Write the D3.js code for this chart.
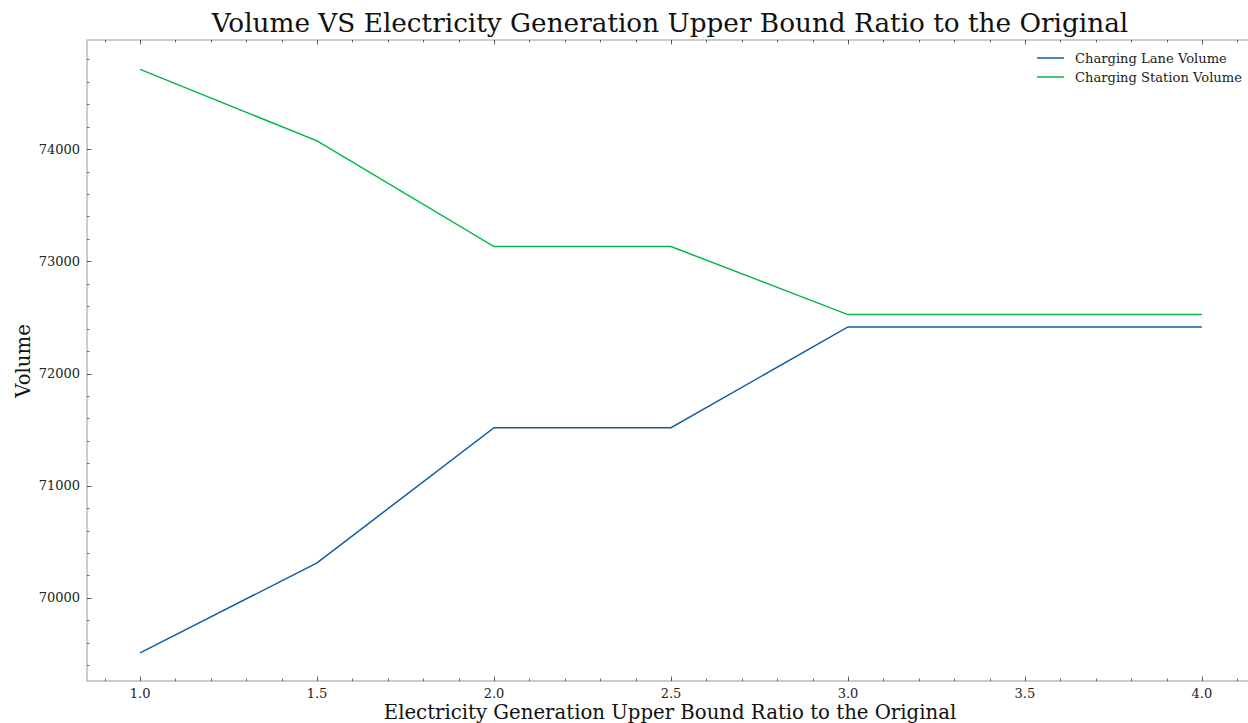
<!DOCTYPE html>
<html><head><meta charset="utf-8">
<script src="https://cdn.jsdelivr.net/npm/d3@7"></script>
<style>body{margin:0;background:#fff}svg{display:block}</style>
</head><body><svg id="c" width="1248" height="723"></svg>
<script>
const ratios = [1.0, 1.5, 2.0, 2.5, 3.0, 3.5, 4.0];
const laneVolume = [69509, 70312, 71517, 71517, 72415, 72415, 72415];
const stationVolume = [74711, 74074, 73132, 73132, 72525, 72525, 72525];
const seriesNames = ["Charging Lane Volume", "Charging Station Volume"];
const seriesColors = ["#0C5DA5", "#00B945"];
const xTicks = [1.0, 1.5, 2.0, 2.5, 3.0, 3.5, 4.0];
const yTicks = [70000, 71000, 72000, 73000, 74000];

const svg = d3.select("#c");
const font = "'DejaVu Serif', serif";
const m = {l: 87, t: 40, r: 1255, b: 681};
const x = d3.scaleLinear().domain([0.85, 4.15]).range([m.l, m.r]);
const y = d3.scaleLinear().domain([69259, 74973]).range([m.b, m.t]);

const g = svg.append("g");
g.append("rect").attr("x", m.l).attr("y", m.t).attr("width", m.r - m.l).attr("height", m.b - m.t)
  .attr("fill", "none").attr("stroke", "#999").attr("stroke-width", 1);

const xMinor = d3.range(0.9, 4.15, 0.1).map(v => +v.toFixed(2));
const yMinor = d3.range(69400, 74973, 200);
function tickX(vals, len){
  vals.forEach(v=>{
    const px = Math.round(x(v))+0.5;
    g.append("line").attr("x1",px).attr("x2",px).attr("y1",m.b).attr("y2",m.b-len).attr("stroke","#444").attr("stroke-width",0.8);
    g.append("line").attr("x1",px).attr("x2",px).attr("y1",m.t).attr("y2",m.t+len).attr("stroke","#444").attr("stroke-width",0.8);
  });
}
function tickY(vals, len){
  vals.forEach(v=>{
    const py = Math.round(y(v))+0.5;
    g.append("line").attr("x1",m.l).attr("x2",m.l+len).attr("y1",py).attr("y2",py).attr("stroke","#444").attr("stroke-width",0.8);
    g.append("line").attr("x1",m.r).attr("x2",m.r-len).attr("y1",py).attr("y2",py).attr("stroke","#444").attr("stroke-width",0.8);
  });
}
tickX(xMinor, 2.5); tickX(xTicks, 4.5);
tickY(yMinor, 2.5); tickY(yTicks, 4.5);

xTicks.forEach(v=>{
  g.append("text").attr("x", x(v)).attr("y", m.b + 17).attr("text-anchor","middle")
   .attr("font-family", font).attr("font-size", 13).attr("fill","#222").text(v.toFixed(1));
});
yTicks.forEach(v=>{
  g.append("text").attr("x", m.l - 7).attr("y", y(v) + 4.5).attr("text-anchor","end")
   .attr("font-family", font).attr("font-size", 13).attr("fill","#222").text(v);
});

const line = d3.line().x((d,i)=>x(ratios[i])).y(d=>y(d));
[laneVolume, stationVolume].forEach((s,k)=>{
  g.append("path").attr("d", line(s)).attr("fill","none").attr("stroke", seriesColors[k]).attr("stroke-width",1.5);
});

seriesNames.forEach((n,k)=>{
  const ly = 58 + k*19;
  g.append("line").attr("x1",1037).attr("x2",1064).attr("y1",ly).attr("y2",ly).attr("stroke",seriesColors[k]).attr("stroke-width",1.5);
  g.append("text").attr("x",1075).attr("y",ly+4.5).attr("font-family",font).attr("font-size",13.1).attr("fill","#222").text(n);
});

svg.append("text").attr("x", 670).attr("y", 32).attr("text-anchor","middle").attr("font-family",font)
  .attr("font-size", 26.3).attr("fill","#111").text("Volume VS Electricity Generation Upper Bound Ratio to the Original");
svg.append("text").attr("x", 670).attr("y", 719).attr("text-anchor","middle").attr("font-family",font)
  .attr("font-size", 19.7).attr("fill","#111").text("Electricity Generation Upper Bound Ratio to the Original");
svg.append("text").attr("transform","translate(30,361) rotate(-90)").attr("text-anchor","middle").attr("font-family",font)
  .attr("font-size", 19.7).attr("fill","#111").text("Volume");
</script></body></html>
